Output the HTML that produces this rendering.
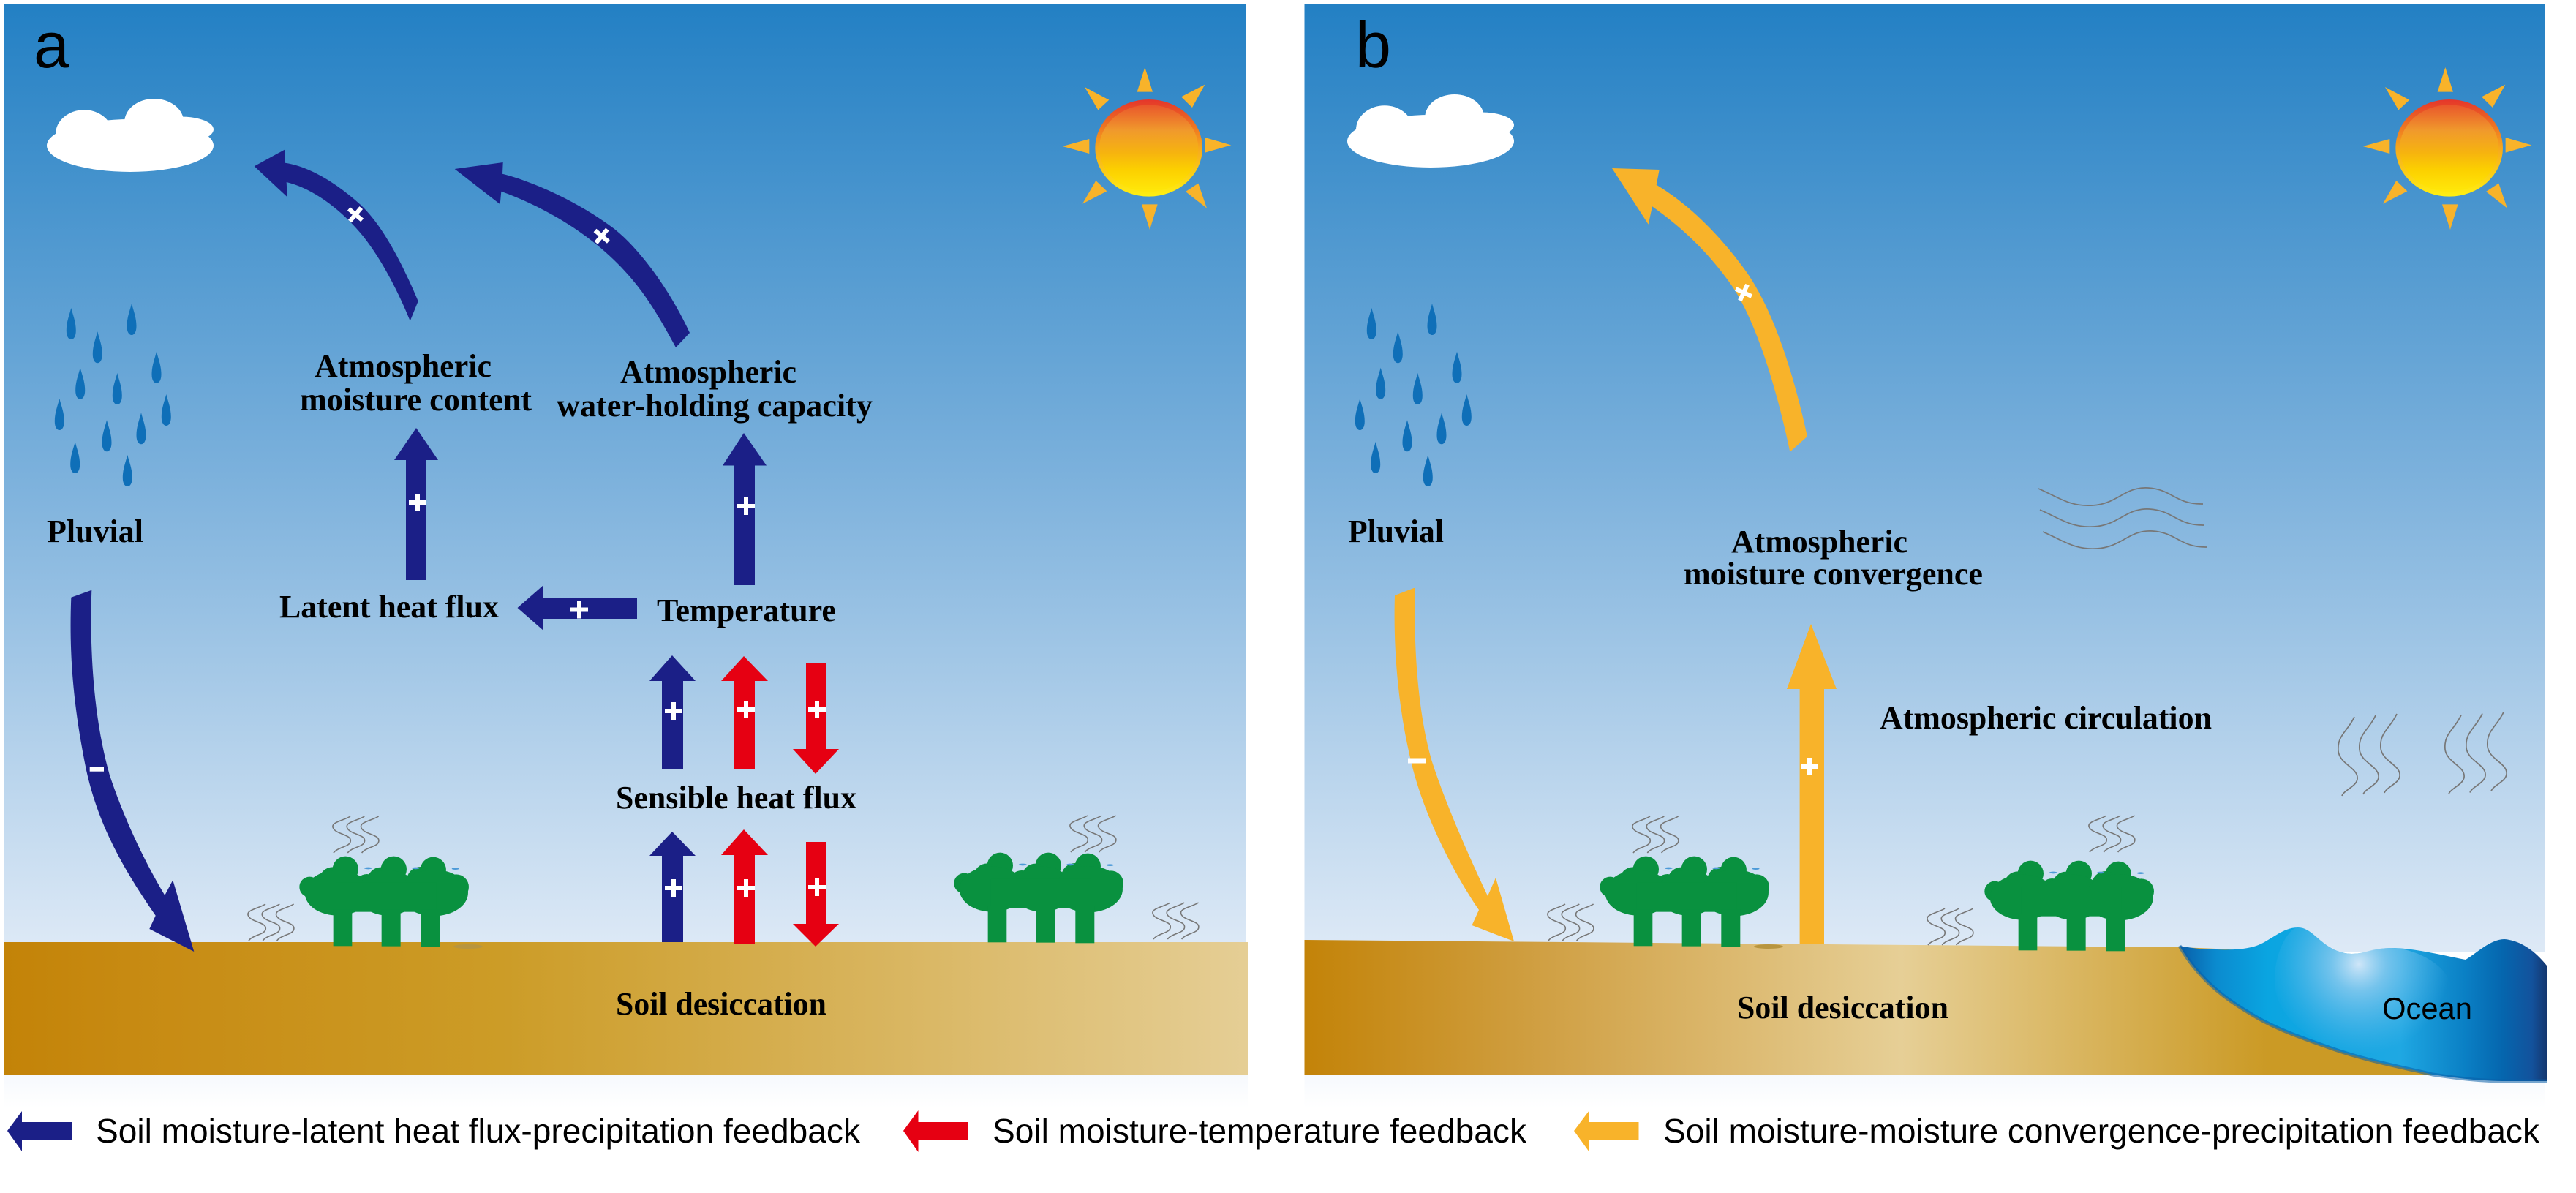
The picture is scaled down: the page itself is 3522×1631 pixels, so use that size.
<!DOCTYPE html>
<html><head><meta charset="utf-8"><style>html,body{margin:0;padding:0;background:#fff}svg{display:block}</style></head><body>
<svg xmlns="http://www.w3.org/2000/svg" width="3522" height="1631" viewBox="0 0 3522 1631">
<defs>
<linearGradient id="sky" x1="0" y1="6" x2="0" y2="1295" gradientUnits="userSpaceOnUse"><stop offset="0" stop-color="#2380c4"/><stop offset=".5" stop-color="#7cb1dc"/><stop offset="1" stop-color="#dde9f6"/></linearGradient>
<linearGradient id="fade" x1="0" y1="0" x2="0" y2="1"><stop offset="0" stop-color="#f6f9fd"/><stop offset="1" stop-color="#fff"/></linearGradient>
<linearGradient id="soilA" x1="6" y1="0" x2="1706" y2="0" gradientUnits="userSpaceOnUse"><stop offset="0" stop-color="#c38308"/><stop offset=".1" stop-color="#c78a12"/><stop offset=".4" stop-color="#cc9c27"/><stop offset=".7" stop-color="#d8b45d"/><stop offset="1" stop-color="#e5ce95"/></linearGradient>
<linearGradient id="soilB" x1="1783" y1="0" x2="3100" y2="0" gradientUnits="userSpaceOnUse"><stop offset="0" stop-color="#c38308"/><stop offset=".25" stop-color="#d0a044"/><stop offset=".62" stop-color="#e6cf96"/><stop offset="1" stop-color="#cb9a25"/></linearGradient>
<linearGradient id="sea" x1="2980" y1="0" x2="3482" y2="0" gradientUnits="userSpaceOnUse"><stop offset="0" stop-color="#0a5ea8"/><stop offset=".1" stop-color="#0b8bcf"/><stop offset=".24" stop-color="#0aa5e1"/><stop offset=".6" stop-color="#1fa8e3"/><stop offset=".78" stop-color="#0a7fc4"/><stop offset=".88" stop-color="#0566ae"/><stop offset=".96" stop-color="#13529c"/><stop offset="1" stop-color="#14376f"/></linearGradient>
<radialGradient id="seaH" cx="3225" cy="1318" r="125" gradientUnits="userSpaceOnUse"><stop offset="0" stop-color="#cfe6f8"/><stop offset=".3" stop-color="#8ccbef" stop-opacity=".8"/><stop offset="1" stop-color="#5cb8ea" stop-opacity="0"/></radialGradient>
<linearGradient id="sun1" x1="0" y1="0" x2="0" y2="1"><stop offset="0" stop-color="#e5352a"/><stop offset=".5" stop-color="#f6a81c"/><stop offset="1" stop-color="#fff011"/></linearGradient>
<linearGradient id="sun2" x1="0" y1="0" x2="0" y2="1"><stop offset="0" stop-color="#e9562c"/><stop offset=".3" stop-color="#f09a2c"/><stop offset=".55" stop-color="#f6b30f"/><stop offset=".75" stop-color="#fcd000"/><stop offset="1" stop-color="#ffe80a"/></linearGradient>
<g id="plus"><path d="M-12 0H12M0-12V12" stroke="#fff" stroke-width="6" fill="none"/></g>
<g id="drop"><path d="M0 0C2.500 10 6.500 19 6.500 31C6.500 39 3.500 43 0 43C-3.500 43-6.500 39-6.500 31C-6.500 19-2.500 10 0 0Z" fill="#0f6fb8"/></g>
<g id="heat" fill="none" stroke="#777" stroke-width="1.600">
<path d="M99 16C90 22 70 24 76 33C81 41 102 41 99 51C97 58 82 58 76 66"/>
<path d="M118.300 16C109.300 22 89.300 24 95.300 33C100.300 41 121.300 41 118.300 51C116.300 58 101.300 58 95.300 66"/>
<path d="M137.600 16C128.600 22 108.600 24 114.600 33C119.600 41 140.600 41 137.600 51C135.600 58 120.600 58 114.600 66"/>
</g>
<g id="tree"><g transform="scale(.3333)" fill="#09913f">
<circle cx="130" cy="338" r="42"/><circle cx="277" cy="265" r="53"/><circle cx="225" cy="312" r="56"/><circle cx="475" cy="265" r="53"/><circle cx="422" cy="312" r="55"/><circle cx="637" cy="268" r="53"/><circle cx="585" cy="312" r="57"/><circle cx="731" cy="338" r="52"/><circle cx="365" cy="335" r="50"/>
<ellipse cx="245" cy="362" rx="135" ry="93"/><ellipse cx="450" cy="362" rx="125" ry="93"/><ellipse cx="640" cy="362" rx="140" ry="95"/>
<rect x="240" y="320" width="410" height="120"/>
<rect x="227" y="430" width="77" height="150"/><rect x="425" y="430" width="78" height="151"/><rect x="586" y="430" width="78" height="153"/>
<g fill="#4c9ad8"><ellipse cx="370" cy="261" rx="16" ry="4"/><ellipse cx="565" cy="261" rx="15" ry="4"/><ellipse cx="728" cy="263" rx="15" ry="4"/></g>
</g></g>
<g id="sun"><g transform="translate(1400 80) scale(.3333)">
<g fill="#f8b32a"><path d="M496 36L464 137H528Z"/><path d="M742 107L645 157L690 201Z"/><path d="M850 355L743 324V386Z"/><path d="M750 614L663 546L715 512Z"/><path d="M516 702L483 598H548Z"/><path d="M240 596L295 501L340 544Z"/><path d="M158 360L268 330V390Z"/><path d="M249 117L349 170L304 211Z"/></g>
<ellipse cx="512" cy="367" rx="220" ry="199" fill="url(#sun1)"/>
<ellipse cx="512" cy="368" rx="203" ry="178" fill="url(#sun2)"/>
</g></g>
<g id="cloud" fill="#fff"><ellipse cx="178" cy="199" rx="114" ry="36"/><ellipse cx="115" cy="183.300" rx="39" ry="33"/><ellipse cx="210.700" cy="166.700" rx="40.500" ry="31.700"/><ellipse cx="248" cy="177" rx="44" ry="17.500"/><rect x="140" y="166" width="110" height="40"/></g>
<g id="rain">
<use href="#drop" x="97.300" y="421"/><use href="#drop" x="180" y="415"/><use href="#drop" x="133.300" y="453.300"/><use href="#drop" x="214" y="480.700"/><use href="#drop" x="109.700" y="502.700"/><use href="#drop" x="160.300" y="510"/><use href="#drop" x="227.300" y="539"/><use href="#drop" x="81.300" y="545"/><use href="#drop" x="193" y="564.300"/><use href="#drop" x="146" y="574.300"/><use href="#drop" x="102.700" y="604"/><use href="#drop" x="174.300" y="622"/>
</g>
</defs>

<rect width="3522" height="1631" fill="#fff"/>
<!-- panel a -->
<rect x="6" y="6" width="1697" height="1290" fill="url(#sky)"/>
<rect x="6" y="1469" width="1700" height="46" fill="url(#fade)"/>
<rect x="6" y="1288" width="1700" height="181" fill="url(#soilA)"/>
<ellipse cx="640" cy="1294" rx="20" ry="3" fill="#b8953f"/>
<!-- panel b -->
<rect x="1783.500" y="6" width="1696.500" height="1295" fill="url(#sky)"/>
<rect x="1783.500" y="1469" width="1696.500" height="46" fill="url(#fade)"/>
<path d="M1783.500 1285L2981 1295L3030 1297L3400 1320V1469H1783.500Z" fill="url(#soilB)"/>
<ellipse cx="2418" cy="1294" rx="20" ry="3" fill="#b8953f"/>
<path d="M2980 1293C2995 1296 3010 1298 3030 1298C3050 1299 3070 1298 3085 1293C3105 1286 3120 1268 3142 1268C3165 1268 3175 1302 3215 1304C3235 1304 3245 1296 3270 1296C3300 1296 3340 1306 3371 1312C3385 1304 3405 1284 3424 1284C3450 1286 3470 1305 3482 1320V1478H3429C3390 1478 3360 1474 3326 1469C3280 1458 3235 1450 3187 1433C3150 1420 3115 1408 3084 1390C3050 1370 3010 1345 2980 1293Z" fill="url(#sea)"/>
<path d="M3270 1296C3240 1296 3235 1304 3215 1304C3175 1302 3165 1268 3142 1268C3130 1268 3110 1300 3110 1340C3110 1400 3180 1440 3240 1440C3300 1440 3350 1400 3350 1350C3350 1320 3300 1296 3270 1296Z" fill="url(#seaH)"/>
<path d="M2980 1293C3010 1345 3050 1370 3084 1390C3115 1408 3150 1420 3187 1433C3235 1450 3280 1458 3326 1469C3360 1474 3390 1478 3429 1478H3482" fill="none" stroke="#0a5ea8" stroke-width="5" stroke-opacity=".55"/>

<use href="#sun"/><use href="#sun" x="1778"/>
<use href="#cloud"/><use href="#cloud" x="1778" y="-6"/>
<use href="#rain"/><use href="#rain" x="1778"/>

<use href="#tree" x="380" y="1100"/><use href="#tree" x="1275" y="1095"/><use href="#tree" x="2158" y="1100"/><use href="#tree" x="2684" y="1106"/>
<use href="#heat" x="380" y="1100"/><use href="#heat" x="264" y="1220"/><use href="#heat" x="1388" y="1099"/><use href="#heat" x="1501" y="1218"/><use href="#heat" x="2157" y="1100"/><use href="#heat" x="2041" y="1220"/><use href="#heat" x="2781" y="1099"/><use href="#heat" x="2560" y="1226"/>

<!-- wind waves -->
<g fill="none" stroke="#777" stroke-width="1.700">
<path d="M2787 668C2815 680 2830 693 2861 691C2895 689 2905 665 2937 667C2970 669 2975 690 3012 689"/>
<path transform="translate(2 29)" d="M2787 668C2815 680 2830 693 2861 691C2895 689 2905 665 2937 667C2970 669 2975 690 3012 689"/>
<path transform="translate(6 59)" d="M2787 668C2815 680 2830 693 2861 691C2895 689 2905 665 2937 667C2970 669 2975 690 3012 689"/>
<g id="vw">
<path d="M3219 980C3210 1000 3195 1005 3197 1027C3199 1045 3225 1050 3223 1065C3222 1075 3205 1080 3202 1088"/>
<path transform="translate(29 -2)" d="M3219 980C3210 1000 3195 1005 3197 1027C3199 1045 3225 1050 3223 1065C3222 1075 3205 1080 3202 1088"/>
<path transform="translate(58 -4)" d="M3219 980C3210 1000 3195 1005 3197 1027C3199 1045 3225 1050 3223 1065C3222 1075 3205 1080 3202 1088"/>
</g>
<use href="#vw" x="146" y="-2.500"/>
</g>

<!-- navy arrows -->
<g fill="#1b1f87">
<path d="M347.700 227.300L389 204.700L390 222.700C425 228 462 252 493 280C525 310 552 365 571.700 411.700L560.700 438.700C545 400 522 355 496.700 323.300C470 290 430 258 391.700 249L392.700 269.300Z"/>
<path d="M621.700 231L687.700 222L687 237.700C725 247 790 275 840 313C880 345 920 405 943 455L924 475C905 440 885 405 860 377C815 325 750 285 685.300 261.700L683.700 279.300Z"/>
<path d="M569 585L599 629H583V793H555V629H539Z"/>
<path d="M1017 592L1048 636.500H1032V800H1004V636.500H988Z"/>
<path d="M707.500 831L743 800V817H871V846H743V862Z"/>
<path d="M919 896L951 931H934V1051H905V931H888Z"/>
<path d="M919 1137L951 1170H934V1288H905V1170H888Z"/>
<path d="M125.300 806.700L97.300 816.700C95 880 97 950 118 1053C135 1130 170 1190 212.700 1251.700L204.300 1270L265.300 1301L236.300 1203.300L225.300 1224C190 1165 165 1105 150 1060C130 990 122 900 125.300 806.700Z"/>
<path d="M10 1546L30 1519V1534H99V1558H30V1574Z"/>
</g>
<!-- red arrows -->
<g fill="#e60012">
<path d="M1017 897L1050 931H1032V1051H1004V931H986Z"/>
<path d="M1017 1134L1050 1169H1032V1291H1004V1169H986Z"/>
<path d="M1102 906H1130V1024H1147L1115 1058L1084 1024H1102Z"/>
<path d="M1102 1151H1130V1263H1147L1115 1294L1084 1263H1102Z"/>
<path d="M1235 1546L1255.500 1518V1534H1324V1558H1255.500V1575Z"/>
</g>
<!-- yellow arrows -->
<g fill="#f8b32a">
<path d="M2204 230L2268.700 232L2264.700 252.700C2310 280 2352 322 2388 372C2425 425 2452 510 2471 596.700L2447.300 617.700C2430 535 2401 437 2366 388C2334 343 2298 310 2259 282.300L2253.700 306.700Z"/>
<path d="M2476 853L2511 942H2494V1291H2460.600V942H2443Z"/>
<path d="M1933 804L1907 814C1905 880 1910 960 1929 1040C1945 1110 1985 1190 2022 1244L2012.500 1265L2070 1287L2045 1200L2034 1225C2020 1195 1980 1110 1957.500 1040C1940 980 1932 890 1935 804Z"/>
<path d="M2152 1546L2173 1518V1534H2240.500V1558H2173V1575Z"/>
</g>

<!-- marks -->
<use href="#plus" x="571" y="687"/><use href="#plus" x="1020" y="692"/><use href="#plus" x="792" y="833.500"/>
<use href="#plus" x="921" y="972"/><use href="#plus" x="1020" y="970"/><use href="#plus" x="1117" y="970"/>
<use href="#plus" x="921" y="1214"/><use href="#plus" x="1020" y="1214"/><use href="#plus" x="1117" y="1213"/>
<use href="#plus" x="2474" y="1048"/>
<g transform="translate(486 293.300) rotate(40)"><use href="#plus"/></g>
<g transform="translate(822.700 322.700) rotate(40)"><use href="#plus"/></g>
<g transform="translate(2384 400) rotate(25)"><use href="#plus"/></g>
<rect x="122.700" y="1048.700" width="19.300" height="6" fill="#fff"/>
<rect x="1925" y="1036.500" width="24" height="7" fill="#fff"/>

<!-- serif labels -->
<g font-family="'Liberation Serif',serif" font-weight="bold" font-size="44" fill="#000">
<text x="430" y="515" textLength="242" lengthAdjust="spacingAndGlyphs">Atmospheric</text>
<text x="410" y="561" textLength="317" lengthAdjust="spacingAndGlyphs">moisture content</text>
<text x="848" y="523" textLength="241" lengthAdjust="spacingAndGlyphs">Atmospheric</text>
<text x="761" y="569" textLength="432" lengthAdjust="spacingAndGlyphs">water-holding capacity</text>
<text x="64" y="741" textLength="132" lengthAdjust="spacingAndGlyphs">Pluvial</text>
<text x="382" y="844" textLength="300" lengthAdjust="spacingAndGlyphs">Latent heat flux</text>
<text x="898" y="849" textLength="245" lengthAdjust="spacingAndGlyphs">Temperature</text>
<text x="842" y="1105" textLength="329" lengthAdjust="spacingAndGlyphs">Sensible heat flux</text>
<text x="842" y="1387" textLength="288" lengthAdjust="spacingAndGlyphs">Soil desiccation</text>
<text x="1843" y="741" textLength="131" lengthAdjust="spacingAndGlyphs">Pluvial</text>
<text x="2367" y="755" textLength="241" lengthAdjust="spacingAndGlyphs">Atmospheric</text>
<text x="2302" y="799" textLength="409" lengthAdjust="spacingAndGlyphs">moisture convergence</text>
<text x="2570" y="996" textLength="454" lengthAdjust="spacingAndGlyphs">Atmospheric circulation</text>
<text x="2375" y="1392" textLength="289" lengthAdjust="spacingAndGlyphs">Soil desiccation</text>
</g>
<!-- sans labels -->
<g font-family="'Liberation Sans',sans-serif" fill="#000">
<text x="46" y="92" font-size="88">a</text>
<text x="1853" y="92" font-size="88">b</text>
<text x="3257" y="1393" font-size="42" textLength="123" lengthAdjust="spacingAndGlyphs">Ocean</text>
<g font-size="46">
<text x="131" y="1562" textLength="1045" lengthAdjust="spacingAndGlyphs">Soil moisture-latent heat flux-precipitation feedback</text>
<text x="1357" y="1562" textLength="730" lengthAdjust="spacingAndGlyphs">Soil moisture-temperature feedback</text>
<text x="2274" y="1562" textLength="1198" lengthAdjust="spacingAndGlyphs">Soil moisture-moisture convergence-precipitation feedback</text>
</g>
</g>
</svg>
</body></html>
